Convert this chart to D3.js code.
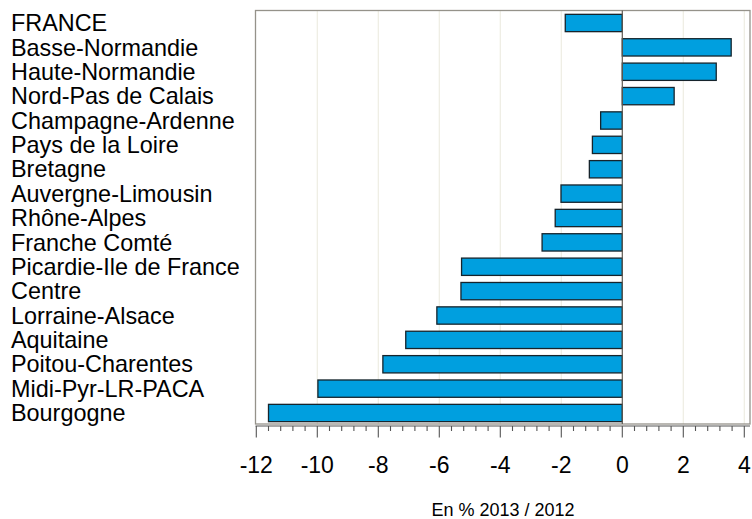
<!DOCTYPE html>
<html>
	<head>
		<meta charset="utf-8" />
		<title>Evolution 2013 / 2012</title>
		<script src="https://d3js.org/d3.v7.min.js"></script>
		<style>
			body { margin: 0; background: #fff; }
			text { font-family: "Liberation Sans", Arial, sans-serif; }
		</style>
	</head>
	<body>
		<svg width="752" height="519"></svg>
		<script>
			// Regions, top to bottom
			const regions = [
				"FRANCE", "Basse-Normandie", "Haute-Normandie", "Nord-Pas de Calais",
				"Champagne-Ardenne", "Pays de la Loire", "Bretagne", "Auvergne-Limousin",
				"Rhône-Alpes", "Franche Comté", "Picardie-Ile de France", "Centre",
				"Lorraine-Alsace", "Aquitaine", "Poitou-Charentes", "Midi-Pyr-LR-PACA",
				"Bourgogne"
			];
			// Evolution in % 2013 / 2012
			const values = [
				-1.87, 3.57, 3.08, 1.70,
				-0.71, -0.98, -1.08, -2.01,
				-2.20, -2.63, -5.27, -5.29,
				-6.08, -7.10, -7.85, -9.98,
				-11.6
			];
			const majorTicks = [-12, -10, -8, -6, -4, -2, 0, 2, 4];
			const axisTitle = "En % 2013 / 2012";

			const svg = d3.select("svg");

			const x = d3.scaleLinear().domain([-12, 4]).range([256.3, 744.3]);
			const y = d3.scaleBand()
				.domain(regions)
				.range([10.8, 425.2])
				.paddingInner(0.29)
				.paddingOuter(0.145);

			const frame = { left: 255.5, right: 750, top: 10.5, bottom: 424 };

			// light grid
			svg.append("g")
				.selectAll("line")
				.data(majorTicks.filter((d) => d !== -12 && d !== 0))
				.join("line")
				.attr("x1", (d) => x(d))
				.attr("x2", (d) => x(d))
				.attr("y1", frame.top)
				.attr("y2", frame.bottom)
				.style("stroke", "#eeede2")
				.style("stroke-width", 1.2);

			// frame
			svg.append("rect")
				.attr("x", frame.left)
				.attr("y", frame.top)
				.attr("width", frame.right - frame.left)
				.attr("height", frame.bottom - frame.top)
				.style("fill", "none")
				.style("stroke", "#95928a")
				.style("stroke-width", 1.3);

			// bars
			svg.append("g")
				.selectAll("rect")
				.data(values)
				.join("rect")
				.attr("x", (d) => x(Math.min(0, d)))
				.attr("y", (d, i) => y(regions[i]))
				.attr("width", (d) => Math.abs(x(d) - x(0)))
				.attr("height", y.bandwidth())
				.style("fill", "#009fdf")
				.style("stroke", "#16242c")
				.style("stroke-width", 1.3);

			// zero line
			svg.append("line")
				.attr("x1", x(0))
				.attr("x2", x(0))
				.attr("y1", frame.top)
				.attr("y2", frame.bottom)
				.style("stroke", "#5f5a52")
				.style("stroke-width", 1.2);

			// region labels
			svg.append("g")
				.selectAll("text")
				.data(regions)
				.join("text")
				.attr("x", 11)
				.attr("y", (d) => y(d) + y.bandwidth() / 2)
				.attr("dy", "0.35em")
				.style("font-size", "23.4px")
				.style("fill", "#000")
				.text((d) => d);

			// bottom axis with minor ticks every 0.4
			const minorTicks = d3.range(-30, 11).map((i) => +(i * 0.4).toFixed(1));
			const axisY = 426;
			const axis = svg.append("g");
			axis.append("line")
				.attr("x1", frame.left)
				.attr("x2", frame.right)
				.attr("y1", axisY)
				.attr("y2", axisY)
				.style("stroke", "#555")
				.style("stroke-width", 1.2);
			axis.selectAll("line.minor")
				.data(minorTicks)
				.join("line")
				.attr("class", "minor")
				.attr("x1", (d) => x(d))
				.attr("x2", (d) => x(d))
				.attr("y1", axisY)
				.attr("y2", (d) => (majorTicks.includes(d) ? 437.5 : 431))
				.style("stroke", "#555")
				.style("stroke-width", 1.1);
			axis.selectAll("text")
				.data(majorTicks)
				.join("text")
				.attr("x", (d) => x(d))
				.attr("y", 472.5)
				.style("text-anchor", "middle")
				.style("font-size", "23px")
				.style("fill", "#000")
				.text((d) => d);

			svg.append("text")
				.attr("x", 503)
				.attr("y", 516)
				.style("text-anchor", "middle")
				.style("font-size", "18px")
				.style("fill", "#000")
				.text(axisTitle);
		</script>
	</body>
</html>
